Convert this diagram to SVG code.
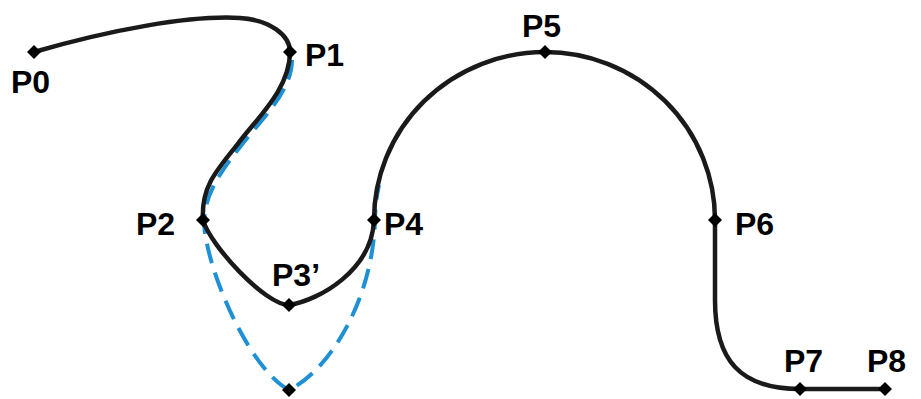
<svg xmlns="http://www.w3.org/2000/svg" width="921" height="399" viewBox="0 0 921 399">
<style>
.curve{fill:none;stroke:#1a1a1a;stroke-width:4.5;stroke-linecap:round;stroke-linejoin:round}
.dash{fill:none;stroke:#1e90d6;stroke-width:4;stroke-dasharray:20 10}
.pt{fill:#000}
.lbl{font-family:"Liberation Sans",Arial,sans-serif;font-weight:bold;font-size:32px;fill:#000}
</style>
<defs>
<path id="dia" d="M0,-7 L7,0 L0,7 L-7,0 Z"/>
</defs>
<rect width="921" height="399" fill="#fff"/>
<g id="connectors">
<path class="dash" d="M292,60 C 292,92 259,122 240,147 C 219,174 205,194 204,222 C 206,270 250,370 289,390 C 330,370 372,300 375,222 C 375,205 377,195 379,185"/>
<path class="curve" d="M34,52 C 110,30 190,15 240,18 C 270,20 290,35 290,52 C 290,90 255,120 237,145 C 215,172 201,188 203,220 C 210,245 265,305 289,305 C 320,300 372,270 374,220 A 171,168 0 0 1 545,52 A 170,168 0 0 1 715,220 L 715,300 C 715,360 740,389 800,389 L 885,389"/>
</g>
<g id="P0"><use href="#dia" class="pt" x="34" y="52"/><text class="lbl" x="11" y="93">P0</text></g>
<g id="P1"><use href="#dia" class="pt" x="290" y="52"/><text class="lbl" x="305" y="66">P1</text></g>
<g id="P2"><use href="#dia" class="pt" x="203" y="220"/><text class="lbl" x="136" y="235">P2</text></g>
<g id="P3prime"><use href="#dia" class="pt" x="289" y="305"/><text class="lbl" x="272" y="286">P3’</text></g>
<g id="P3"><use href="#dia" class="pt" x="289" y="390"/></g>
<g id="P4"><use href="#dia" class="pt" x="374" y="220"/><text class="lbl" x="384" y="235">P4</text></g>
<g id="P5"><use href="#dia" class="pt" x="545" y="52"/><text class="lbl" x="522" y="37">P5</text></g>
<g id="P6"><use href="#dia" class="pt" x="715" y="220"/><text class="lbl" x="735" y="235">P6</text></g>
<g id="P7"><use href="#dia" class="pt" x="800" y="389"/><text class="lbl" x="784" y="372">P7</text></g>
<g id="P8"><use href="#dia" class="pt" x="885" y="389"/><text class="lbl" x="867" y="372">P8</text></g>
</svg>
